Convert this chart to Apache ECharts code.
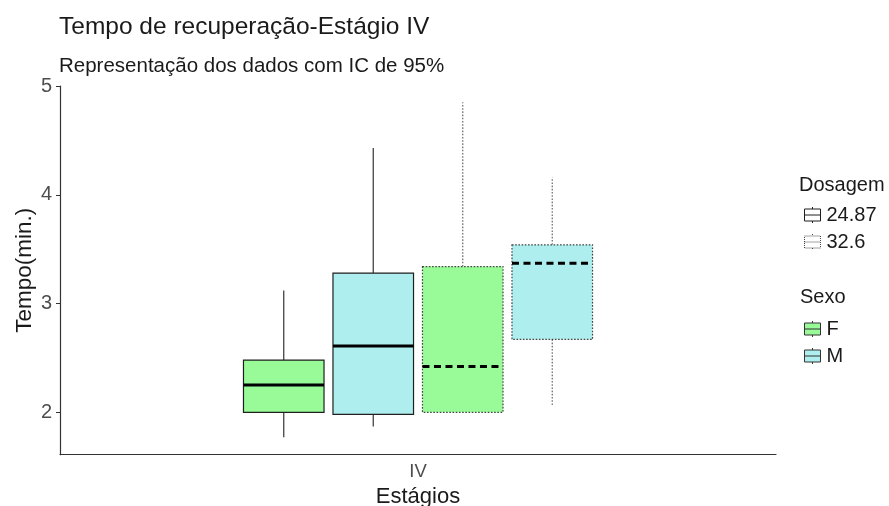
<!DOCTYPE html>
<html>
<head>
<meta charset="utf-8">
<script src="https://cdn.jsdelivr.net/npm/echarts@6/dist/echarts.min.js"></script>
<style>
html,body{margin:0;padding:0;background:#fff;}
#chart{width:889px;height:506px;}
</style>
</head>
<body>
<div id="chart"></div>
<script>
// ---- data ----
const categories = ['IV'];
const dosages = ['24.87', '32.6'];
const sexes = ['F', 'M'];
// one entry per box, order: (24.87,F) (24.87,M) (32.6,F) (32.6,M)
const boxDose   = ['24.87', '24.87', '32.6', '32.6'];
const boxSex    = ['F', 'M', 'F', 'M'];
const boxLow    = [1.77, 1.87, 2.00, 2.06];
const boxQ1     = [2.00, 1.98, 2.00, 2.67];
const boxMedian = [2.25, 2.61, 2.42, 3.37];
const boxQ3     = [2.48, 3.28, 3.34, 3.54];
const boxHigh   = [3.12, 4.43, 4.85, 4.16];
const yTicks    = [2, 3, 4, 5];

// ---- styles ----
const FONT = "'Liberation Sans', Arial, sans-serif";
const sexFill = { F: '#98FB98', M: '#AFEEEE' };
const doseStyle = {
  '24.87': { boxDash: null, whiskDash: null, medDash: null, stroke: '#1f1f1f', whisk: '#333333' },
  '32.6':  { boxDash: [1.6, 1.6], whiskDash: [1.6, 1.6], medDash: [7, 4.5], stroke: '#444444', whisk: '#666666' }
};
const SLOT = 0.125;   // fraction of the category band per dodged box
const BOXW = 0.9;     // box width relative to slot

function seriesData(dose) {
  const out = [];
  for (let i = 0; i < boxDose.length; i++) {
    if (boxDose[i] !== dose) continue;
    const g = dosages.indexOf(boxDose[i]) * sexes.length + sexes.indexOf(boxSex[i]);
    out.push({ value: [0, boxLow[i], boxQ1[i], boxMedian[i], boxQ3[i], boxHigh[i], g] });
  }
  return out;
}

function renderBox(params, api) {
  const st = doseStyle[params.seriesName];
  const cat = api.value(0);
  const g = api.value(6);
  const band = api.size([1, 0])[0];
  const c = api.coord([cat, api.value(3)]);
  const cx = c[0] + (g - 1.5) * band * SLOT;
  const half = band * SLOT * BOXW / 2;
  const yLow = api.coord([cat, api.value(1)])[1];
  const yQ1 = api.coord([cat, api.value(2)])[1];
  const yMed = c[1];
  const yQ3 = api.coord([cat, api.value(4)])[1];
  const yHigh = api.coord([cat, api.value(5)])[1];
  const sex = sexes[g % sexes.length];
  const children = [];
  children.push({ type: 'line', shape: { x1: cx, y1: yQ3, x2: cx, y2: yHigh },
    style: { stroke: st.whisk, lineWidth: 1.2, lineDash: st.whiskDash } });
  if (Math.abs(yLow - yQ1) > 0.5) {
    children.push({ type: 'line', shape: { x1: cx, y1: yQ1, x2: cx, y2: yLow },
      style: { stroke: st.whisk, lineWidth: 1.2, lineDash: st.whiskDash } });
  }
  children.push({ type: 'rect', shape: { x: cx - half, y: yQ3, width: half * 2, height: yQ1 - yQ3 },
    style: { fill: sexFill[sex], stroke: st.stroke, lineWidth: 1.2, lineDash: st.boxDash } });
  children.push({ type: 'line', shape: { x1: cx - half, y1: yMed, x2: cx + half, y2: yMed },
    style: { stroke: '#000', lineWidth: 3, lineDash: st.medDash } });
  return { type: 'group', children: children };
}

const iconPath = 'path://M0,2.5 L20,2.5 L20,17.5 L0,17.5 Z M0,10 L20,10 M10,0 L10,2.5 M10,17.5 L10,20';

const series = dosages.map(d => ({
  name: d,
  type: 'custom',
  renderItem: renderBox,
  encode: { x: 0, y: [1, 2, 3, 4, 5] },
  itemStyle: { color: '#fff', borderColor: '#333' },
  data: seriesData(d),
  silent: true
}));
sexes.forEach(s => series.push({
  name: s, type: 'custom', renderItem: () => null, data: [],
  itemStyle: { color: sexFill[s], borderColor: '#333' }
}));

const legendText = { fontFamily: FONT, fontSize: 20, color: '#1a1a1a', padding: [0, 0, 0, 1] };

const chart = echarts.init(document.getElementById('chart'), null, { renderer: 'canvas' });
chart.setOption({
  backgroundColor: '#fff',
  animation: false,
  textStyle: { fontFamily: FONT },
  title: [
    { text: 'Tempo de recuperação-Estágio IV', left: 59, top: 15, padding: 0,
      textStyle: { fontFamily: FONT, fontSize: 24.5, fontWeight: 'normal', color: '#1a1a1a' } },
    { text: 'Representação dos dados com IC de 95%', left: 59, top: 56, padding: 0,
      textStyle: { fontFamily: FONT, fontSize: 20.5, fontWeight: 'normal', color: '#1a1a1a' } },
    { text: 'Dosagem', left: 799, top: 175, padding: 0,
      textStyle: { fontFamily: FONT, fontSize: 20, fontWeight: 'normal', color: '#1a1a1a' } },
    { text: 'Sexo', left: 800, top: 287, padding: 0,
      textStyle: { fontFamily: FONT, fontSize: 20, fontWeight: 'normal', color: '#1a1a1a' } }
  ],
  legend: [
    { data: dosages.map(d => ({ name: d, icon: iconPath,
        itemStyle: { color: '#fff', borderColor: doseStyle[d].stroke, borderWidth: 1,
          borderType: d === '32.6' ? 'dotted' : 'solid' } })),
      orient: 'vertical', left: 804, top: 205, padding: 0,
      itemWidth: 16, itemHeight: 16, itemGap: 7, selectedMode: false,
      textStyle: legendText },
    { data: sexes.map(s => ({ name: s, icon: iconPath,
        itemStyle: { color: sexFill[s], borderColor: '#333', borderWidth: 1, borderType: 'solid' } })),
      orient: 'vertical', left: 804, top: 319, padding: 0,
      itemWidth: 16, itemHeight: 16, itemGap: 7, selectedMode: false,
      textStyle: legendText }
  ],
  grid: { left: 60, right: 113, top: 86, bottom: 51.3, containLabel: false, outerBoundsMode: 'none' },
  xAxis: {
    type: 'category',
    data: categories,
    boundaryGap: true,
    name: 'Estágios',
    nameLocation: 'middle',
    nameGap: 31,
    nameMoveOverlap: false,
    nameTextStyle: { fontFamily: FONT, fontSize: 22, color: '#1a1a1a' },
    axisLine: { lineStyle: { color: '#333', width: 1.2 } },
    axisTick: { alignWithLabel: true, length: 4, lineStyle: { color: '#333' } },
    axisLabel: { fontFamily: FONT, fontSize: 18.5, color: '#4d4d4d', margin: 8 },
    splitLine: { show: false }
  },
  yAxis: {
    type: 'value',
    min: 1.61,
    max: 5.0,
    name: 'Tempo(min.)',
    nameLocation: 'middle',
    nameRotate: 90,
    nameGap: 24,
    nameMoveOverlap: false,
    nameTextStyle: { fontFamily: FONT, fontSize: 22.5, color: '#1a1a1a' },
    axisLine: { show: true, lineStyle: { color: '#333', width: 1.2 } },
    axisTick: { show: true, length: 4, lineStyle: { color: '#333' }, customValues: yTicks },
    axisLabel: { fontFamily: FONT, fontSize: 20, color: '#4d4d4d', margin: 8, customValues: yTicks },
    splitLine: { show: false }
  },
  series: series
});
</script>
</body>
</html>
